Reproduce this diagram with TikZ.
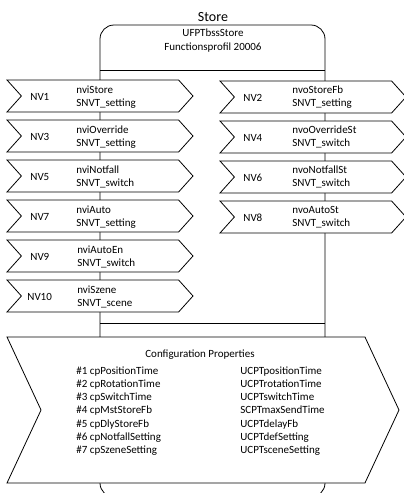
\documentclass[tikz,border=0pt]{standalone}
\usepackage{fontspec}
\setmainfont{Carlito}
\usetikzlibrary{shapes.symbols}

\tikzset{
  nvbox/.style={signal, signal from=west, signal to=east, draw, fill=white,
    signal pointer angle=96, minimum height=32pt, minimum width=186pt, inner sep=0pt},
  nvlabel/.style={anchor=west, inner sep=0pt, font=\fontsize{11}{13.3}\selectfont},
  nvname/.style={anchor=west, align=left, inner sep=0pt, font=\fontsize{11}{13.3}\selectfont},
}

\begin{document}
\begin{tikzpicture}[x=1pt,y=-1pt,line width=0.8pt]
\useasboundingbox (0,0) rectangle (404,493);
% function block
\draw[rounded corners=14pt] (100,25) rectangle (325,497);
\node[font=\fontsize{14}{16}\selectfont] (title) at (213,17) {Store};
\node[align=center,font=\fontsize{11}{14}\selectfont] (profil) at (213,41) {UFPTbssStore\\Functionsprofil 20006};
\draw (100,70) -- (325,70);
\draw (100,323) -- (325,323);

% inputs
\node[nvbox] (in1) at (100,96) {};
\node[nvlabel] (nv1) at (30,97) {NV1};
\node[nvname] (vin1) at (76,97) {nviStore\\SNVT\_setting};
\node[nvbox] (in3) at (100,136) {};
\node[nvlabel] (nv3) at (30,137) {NV3};
\node[nvname] (vin3) at (76,137) {nviOverride\\SNVT\_setting};
\node[nvbox] (in5) at (100,176) {};
\node[nvlabel] (nv5) at (30,177) {NV5};
\node[nvname] (vin5) at (76,177) {nviNotfall\\SNVT\_switch};
\node[nvbox] (in7) at (100,216) {};
\node[nvlabel] (nv7) at (30,217) {NV7};
\node[nvname] (vin7) at (76,217) {nviAuto\\SNVT\_setting};
\node[nvbox] (in9) at (100,256) {};
\node[nvlabel] (nv9) at (30,257) {NV9};
\node[nvname] (vin9) at (77,257) {nviAutoEn\\SNVT\_switch};
\node[nvbox] (in10) at (100,296) {};
\node[nvlabel] (nv10) at (27,297) {NV10};
\node[nvname] (vin10) at (77,297) {nviSzene\\SNVT\_scene};

% outputs
\node[nvbox,minimum width=186pt] (out2) at (313,97) {};
\node[nvlabel] (nv2) at (243,98) {NV2};
\node[nvname] (vout2) at (292,97) {nvoStoreFb\\SNVT\_setting};
\node[nvbox,minimum width=186pt] (out4) at (313,137) {};
\node[nvlabel] (nv4) at (243,138) {NV4};
\node[nvname] (vout4) at (292,137) {nvoOverrideSt\\SNVT\_switch};
\node[nvbox,minimum width=186pt] (out6) at (313,177) {};
\node[nvlabel] (nv6) at (243,178) {NV6};
\node[nvname] (vout6) at (292,177) {nvoNotfallSt\\SNVT\_switch};
\node[nvbox,minimum width=186pt] (out8) at (313,217) {};
\node[nvlabel] (nv8) at (243,218) {NV8};
\node[nvname] (vout8) at (292,217) {nvoAutoSt\\SNVT\_switch};

% configuration properties
\node[nvbox,minimum width=392pt,minimum height=146pt,signal pointer angle=130] (cfg) at (203,410) {};
\node[font=\fontsize{11}{13.3}\selectfont] (cfgtitle) at (200,355) {Configuration Properties};
\node[nvname,anchor=north west] (cpnames) at (76,366) {\#1 cpPositionTime\\\#2 cpRotationTime\\\#3 cpSwitchTime\\\#4 cpMstStoreFb\\\#5 cpDlyStoreFb\\\#6 cpNotfallSetting\\\#7 cpSzeneSetting};
\node[nvname,anchor=north west] (cptypes) at (240,366) {UCPTpositionTime\\UCPTrotationTime\\UCPTswitchTime\\SCPTmaxSendTime\\UCPTdelayFb\\UCPTdefSetting\\UCPTsceneSetting};
\end{tikzpicture}
\end{document}
